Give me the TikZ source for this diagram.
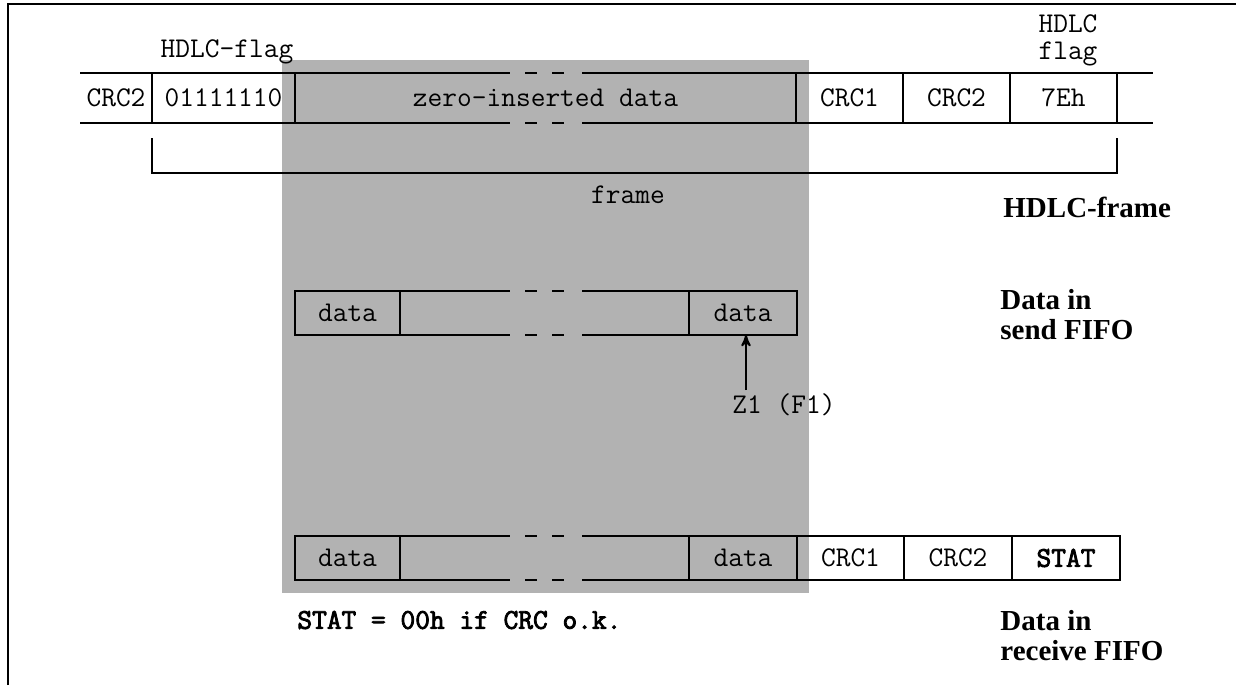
\documentclass[tikz,border=0pt]{standalone}
\usepackage{fontspec}
\setmainfont{Liberation Serif}
\setmonofont{Latin Modern Mono}[BoldFont={Latin Modern Mono}, BoldFeatures={FakeBold=3}]
\usepackage{xcolor}
\usetikzlibrary{arrows,positioning,calc}
\definecolor{shadegray}{gray}{0.7}

% top and bottom edge of a field that is broken in the middle
\newcommand{\brokenedge}[1]{%
  \draw[rule] (#1.north west) -- (510,0 |- #1.north) (582,0 |- #1.north) -- (#1.north east)
              (#1.south west) -- (510,0 |- #1.south) (582,0 |- #1.south) -- (#1.south east);
  \draw[brk] (525,0 |- #1.north) -- (565,0 |- #1.north)
             (525,0 |- #1.south) -- (565,0 |- #1.south);}

\begin{document}
\begin{tikzpicture}[x=0.5pt, y=-0.5pt,
    cell/.style = {draw, line width=0.6pt, outer sep=0pt, inner sep=0pt,
      minimum height=22pt, font=\fontsize{14.3}{16}\selectfont\ttfamily},
    hcell/.style = {cell, minimum height=25pt},
    rule/.style = {line width=0.6pt},
    brk/.style = {line width=0.9pt, dash pattern=on 6pt off 7.5pt},
    mono/.style = {font=\fontsize{14.3}{13.5}\selectfont\ttfamily, align=center, inner sep=0pt},
    caption/.style = {font=\fontsize{14.5}{15}\selectfont\bfseries, align=left,
      anchor=west, inner sep=0pt},
    post/.style = {->, >=stealth', line width=1pt}]

  \useasboundingbox (0,0) rectangle (1236,685);
  \fill[shadegray] (282,60) rectangle (809,593);
  \draw[line width=1.4pt] (8,685) -- (8,4) -- (1236,4);

  % HDLC frame
  \node[hcell, draw=none, minimum width=36pt] (f1) at (116,98) {CRC2};
  \node[hcell, minimum width=71.5pt, right=0pt of f1] (f2) {01111110};
  \node[hcell, draw=none, minimum width=250.5pt, right=0pt of f2] (f3) {zero-inserted data};
  \node[hcell, minimum width=53.5pt, right=0pt of f3] (f4) {CRC1};
  \node[hcell, minimum width=53.5pt, right=0pt of f4] (f5) {CRC2};
  \node[hcell, minimum width=53.5pt, right=0pt of f5] (f6) {7Eh};
  \node[hcell, draw=none, minimum width=18pt, right=0pt of f6] (f7) {};
  \brokenedge{f3}
  \draw[rule] (f1.north west) -- (f1.north east) (f1.south west) -- (f1.south east)
              (f7.north west) -- (f7.north east) (f7.south west) -- (f7.south east);
  \draw[rule] ([yshift=-7.5pt]f2.south west) -- ([yshift=-25pt]f2.south west)
              -- ([yshift=-25pt]f6.south east) -- ([yshift=-7.5pt]f6.south east);

  \node[mono] (flagl) at (227,52) {HDLC-flag};
  \node[mono] (flagr) at (1068,40) {HDLC\\flag};
  \node[mono] (framelbl) at (628,195) {frame};
  \node[caption] (hdlclbl) at (1003,207) {HDLC-frame};

  % send FIFO
  \node[cell, minimum width=52.5pt] (s1) at (347.5,313) {data};
  \node[cell, draw=none, minimum width=144.5pt, right=0pt of s1] (s2) {};
  \node[cell, minimum width=54pt, right=0pt of s2] (s3) {data};
  \brokenedge{s2}
  \coordinate (zptr) at (746,390);
  \draw[post] (zptr) -- (zptr |- s3.south);
  \node[mono] (zlbl) at (784,405) {Z1 (F1)};
  \node[caption] (sendlbl) at (1000,315) {Data in\\send FIFO};

  % receive FIFO
  \node[cell, minimum width=52.5pt] (r1) at (347.5,558) {data};
  \node[cell, draw=none, minimum width=144.5pt, right=0pt of r1] (r2) {};
  \node[cell, minimum width=54pt, right=0pt of r2] (r3) {data};
  \node[cell, minimum width=53.5pt, right=0pt of r3] (r4) {CRC1};
  \node[cell, minimum width=54pt, right=0pt of r4] (r5) {CRC2};
  \node[cell, minimum width=54pt, right=0pt of r5] (r6) {\bfseries STAT};
  \brokenedge{r2}
  \node[mono, anchor=west, font=\fontsize{14.3}{16}\selectfont\ttfamily\bfseries]
    (statnote) at (297,620) {STAT = 00h if CRC o.k.};
  \node[caption] (recvlbl) at (1000,636) {Data in\\receive FIFO};
\end{tikzpicture}
\end{document}
